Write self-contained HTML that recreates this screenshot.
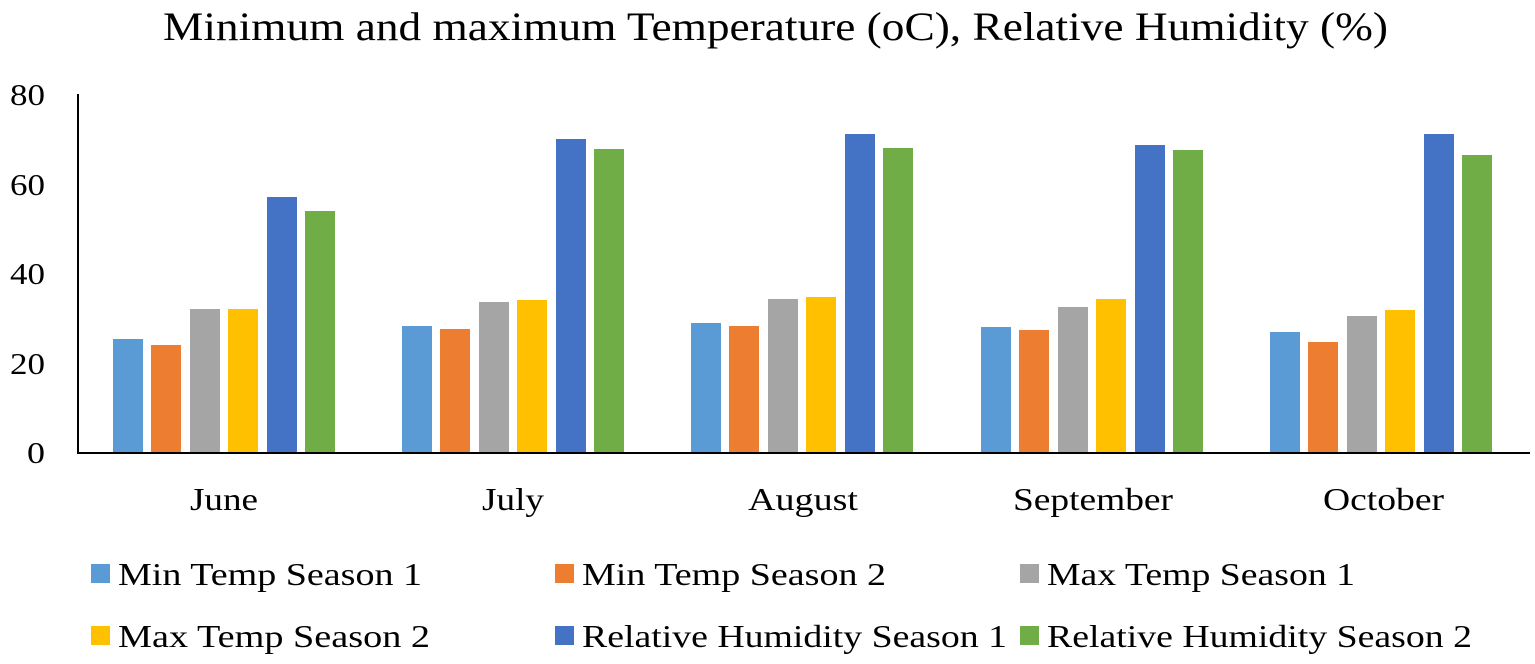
<!DOCTYPE html>
<html><head><meta charset="utf-8"><style>
html,body{margin:0;padding:0;background:#fff;}
svg{display:block;}
text{font-family:"Liberation Serif",serif;fill:#000;}
</style></head><body>
<svg width="1535" height="664" viewBox="0 0 1535 664" xmlns="http://www.w3.org/2000/svg">
<text x="163" y="40" font-size="40" textLength="1225" lengthAdjust="spacingAndGlyphs">Minimum and maximum Temperature (oC), Relative Humidity (%)</text>
<g font-size="31">
<text x="10" y="105" textLength="35" lengthAdjust="spacingAndGlyphs">80</text>
<text x="10" y="195" textLength="35" lengthAdjust="spacingAndGlyphs">60</text>
<text x="10" y="284" textLength="35" lengthAdjust="spacingAndGlyphs">40</text>
<text x="10" y="374" textLength="35" lengthAdjust="spacingAndGlyphs">20</text>
<text x="27" y="463" textLength="18" lengthAdjust="spacingAndGlyphs">0</text>
</g>
<g id="bars">
<rect x="113" y="339" width="30" height="114" fill="#5B9BD5"/>
<rect x="151" y="345" width="30" height="108" fill="#ED7D31"/>
<rect x="190" y="309" width="30" height="144" fill="#A5A5A5"/>
<rect x="228" y="309" width="30" height="144" fill="#FFC000"/>
<rect x="267" y="197" width="30" height="256" fill="#4472C4"/>
<rect x="305" y="211" width="30" height="242" fill="#70AD47"/>
<rect x="402" y="326" width="30" height="127" fill="#5B9BD5"/>
<rect x="440" y="329" width="30" height="124" fill="#ED7D31"/>
<rect x="479" y="302" width="30" height="151" fill="#A5A5A5"/>
<rect x="517" y="300" width="30" height="153" fill="#FFC000"/>
<rect x="556" y="139" width="30" height="314" fill="#4472C4"/>
<rect x="594" y="149" width="30" height="304" fill="#70AD47"/>
<rect x="691" y="323" width="30" height="130" fill="#5B9BD5"/>
<rect x="729" y="326" width="30" height="127" fill="#ED7D31"/>
<rect x="768" y="299" width="30" height="154" fill="#A5A5A5"/>
<rect x="806" y="297" width="30" height="156" fill="#FFC000"/>
<rect x="845" y="134" width="30" height="319" fill="#4472C4"/>
<rect x="883" y="148" width="30" height="305" fill="#70AD47"/>
<rect x="981" y="327" width="30" height="126" fill="#5B9BD5"/>
<rect x="1019" y="330" width="30" height="123" fill="#ED7D31"/>
<rect x="1058" y="307" width="30" height="146" fill="#A5A5A5"/>
<rect x="1096" y="299" width="30" height="154" fill="#FFC000"/>
<rect x="1135" y="145" width="30" height="308" fill="#4472C4"/>
<rect x="1173" y="150" width="30" height="303" fill="#70AD47"/>
<rect x="1270" y="332" width="30" height="121" fill="#5B9BD5"/>
<rect x="1308" y="342" width="30" height="111" fill="#ED7D31"/>
<rect x="1347" y="316" width="30" height="137" fill="#A5A5A5"/>
<rect x="1385" y="310" width="30" height="143" fill="#FFC000"/>
<rect x="1424" y="134" width="30" height="319" fill="#4472C4"/>
<rect x="1462" y="155" width="30" height="298" fill="#70AD47"/>
</g>
<line x1="78" y1="94" x2="78" y2="454" stroke="#000" stroke-width="2"/>
<line x1="77" y1="453" x2="1530" y2="453" stroke="#000" stroke-width="2"/>
<g font-size="32">
<text x="190" y="510" textLength="68" lengthAdjust="spacingAndGlyphs">June</text>
<text x="482" y="510" textLength="62" lengthAdjust="spacingAndGlyphs">July</text>
<text x="748" y="510" textLength="110" lengthAdjust="spacingAndGlyphs">August</text>
<text x="1013" y="510" textLength="160" lengthAdjust="spacingAndGlyphs">September</text>
<text x="1323" y="510" textLength="121" lengthAdjust="spacingAndGlyphs">October</text>
</g>
<g font-size="32">
<rect x="91" y="564" width="19" height="19" fill="#5B9BD5"/><text x="118" y="585" textLength="304" lengthAdjust="spacingAndGlyphs">Min Temp Season 1</text>
<rect x="555" y="564" width="19" height="19" fill="#ED7D31"/><text x="582" y="585" textLength="304" lengthAdjust="spacingAndGlyphs">Min Temp Season 2</text>
<rect x="1020" y="564" width="19" height="19" fill="#A5A5A5"/><text x="1047" y="585" textLength="308" lengthAdjust="spacingAndGlyphs">Max Temp Season 1</text>
<rect x="91" y="626" width="19" height="19" fill="#FFC000"/><text x="118" y="647" textLength="312" lengthAdjust="spacingAndGlyphs">Max Temp Season 2</text>
<rect x="555" y="626" width="19" height="19" fill="#4472C4"/><text x="582" y="647" textLength="425" lengthAdjust="spacingAndGlyphs">Relative Humidity Season 1</text>
<rect x="1020" y="626" width="19" height="19" fill="#70AD47"/><text x="1047" y="647" textLength="425" lengthAdjust="spacingAndGlyphs">Relative Humidity Season 2</text>
</g>
</svg>
</body></html>
